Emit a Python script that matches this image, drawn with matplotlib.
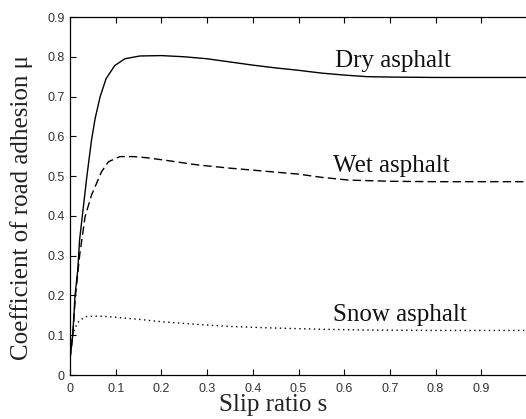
import matplotlib
matplotlib.use("Agg")
import matplotlib.pyplot as plt

s_dry = [0, 0.006, 0.011, 0.017, 0.021, 0.027, 0.037, 0.047, 0.055, 0.066, 0.079, 0.098, 0.12,
         0.153, 0.2, 0.25, 0.3, 0.35, 0.4, 0.45, 0.5, 0.55, 0.6, 0.65, 0.7, 0.8, 0.9, 1.0]
mu_dry = [0.04, 0.1, 0.2, 0.264, 0.34, 0.4, 0.5, 0.59, 0.645, 0.7, 0.745, 0.778, 0.795,
          0.802, 0.803, 0.8, 0.795, 0.787, 0.779, 0.772, 0.766, 0.759, 0.754, 0.75, 0.749,
          0.748, 0.748, 0.748]

s_wet = [0, 0.006, 0.012, 0.021, 0.033, 0.047, 0.069, 0.084, 0.109, 0.14, 0.17, 0.22,
         0.28, 0.35, 0.42, 0.5, 0.55, 0.61, 0.7, 0.8, 0.9, 1.0]
mu_wet = [0.04, 0.1, 0.2, 0.3, 0.398, 0.452, 0.511, 0.536, 0.549, 0.549, 0.546, 0.538,
          0.528, 0.52, 0.513, 0.505, 0.497, 0.49, 0.487, 0.486, 0.486, 0.486]

s_snow = [0, 0.005, 0.01, 0.016, 0.022, 0.036, 0.06, 0.08, 0.1, 0.15, 0.2, 0.28, 0.35,
          0.45, 0.55, 0.65, 0.8, 1.0]
mu_snow = [0.05, 0.09, 0.115, 0.13, 0.138, 0.147, 0.148, 0.147, 0.145, 0.14, 0.134, 0.127,
           0.122, 0.118, 0.115, 0.113, 0.112, 0.112]

labels = ["Dry asphalt", "Wet asphalt", "Snow asphalt"]
label_pos = [(0.58, 0.774), (0.575, 0.51), (0.575, 0.136)]

x_ticks = [0, 0.1, 0.2, 0.3, 0.4, 0.5, 0.6, 0.7, 0.8, 0.9]
x_ticklabels = ["0", "0.1", "0.2", "0.3", "0.4", "0.5", "0.6", "0.7", "0.8", "0.9"]
y_ticks = [0, 0.1, 0.2, 0.3, 0.4, 0.5, 0.6, 0.7, 0.8, 0.9]
y_ticklabels = ["0", "0.1", "0.2", "0.3", "0.4", "0.5", "0.6", "0.7", "0.8", "0.9"]

W, H = 526, 419
fig = plt.figure(figsize=(W / 100, H / 100), dpi=100)
left_px, right_px, top_px, bot_px = 70, 526, 17, 375
ax = fig.add_axes([left_px / W, (H - bot_px) / H, (right_px - left_px) / W, (bot_px - top_px) / H])

ax.plot(s_dry, mu_dry, color="black", lw=1.0, linestyle="-")
ax.plot(s_wet, mu_wet, color="black", lw=1.0, linestyle=(0, (6, 3)))
ax.plot(s_snow, mu_snow, color="black", lw=1.0, linestyle=(0, (1, 2.5)))

serif = ["Liberation Serif", "DejaVu Serif"]
for lab, (x, y) in zip(labels, label_pos):
    ax.text(x, y, lab, fontsize=18, family=serif, ha="left", va="baseline", color="#111111")

ax.set_xlim(0, (right_px - left_px) / 457.0)
ax.set_ylim(0, 0.9)
ax.set_xticks(x_ticks)
ax.set_xticklabels(x_ticklabels)
ax.set_yticks(y_ticks)
ax.set_yticklabels(y_ticklabels)
ax.tick_params(direction="in", length=4, width=0.8, top=True, labelsize=9,
               labelcolor="#333333")
ax.tick_params(axis="x", pad=6)
ax.tick_params(axis="y", pad=4)
for lab in ax.get_xticklabels() + ax.get_yticklabels():
    lab.set_family("Liberation Sans")
ax.spines["right"].set_visible(False)
for sp in ["left", "bottom", "top"]:
    ax.spines[sp].set_linewidth(0.9)

fig.text(273 / W, 1 - 405 / H, "Slip ratio s", fontsize=18, family=serif,
         ha="center", va="center", color="#222222")
fig.text(22 / W, 1 - 207 / H, "Coefficient of road adhesion \u03bc", fontsize=18, family=serif,
         ha="center", va="center", rotation=90, color="#222222")

fig.savefig("out.png", dpi=100)
